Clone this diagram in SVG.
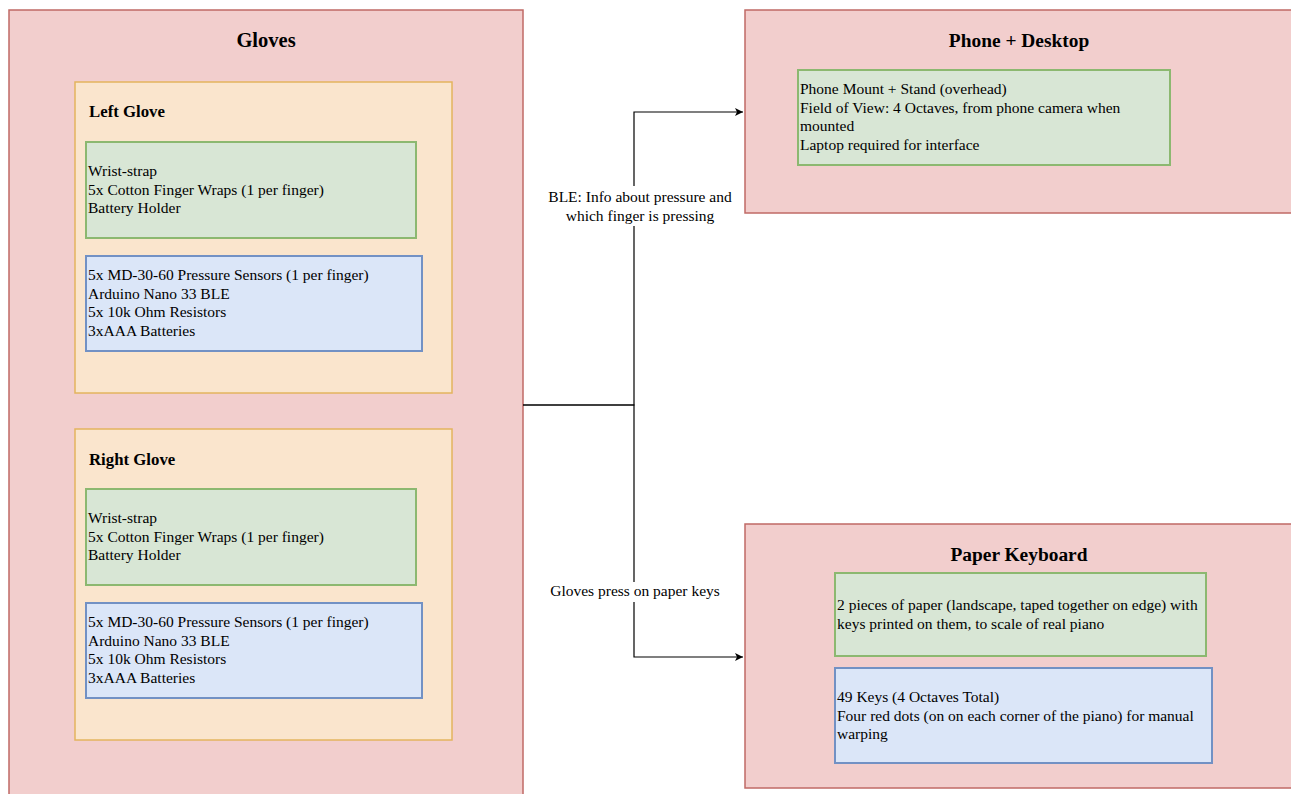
<svg xmlns="http://www.w3.org/2000/svg" width="1291" height="794" viewBox="0 0 1291 794">
<style>
text{font-family:"Liberation Serif","Times New Roman",serif;fill:#000}
.body{font-size:15.5px}
.h1{font-size:20.5px;font-weight:bold}
.h2{font-size:19.4px;font-weight:bold}
.h3{font-size:16.8px;font-weight:bold}
.red{fill:#f2cecd;stroke:#c06a66;stroke-width:1.5}
.org{fill:#fae5cd;stroke:#e3b45e;stroke-width:1.5}
.grn{fill:#d8e6d5;stroke:#8cb870;stroke-width:2}
.blu{fill:#dbe6f8;stroke:#7291c4;stroke-width:2}
.edge{fill:none;stroke:#000;stroke-width:1.2}
</style>
<defs>
<marker id="arr" markerWidth="10" markerHeight="10" refX="9" refY="5" orient="auto" markerUnits="userSpaceOnUse">
<path d="M1,1 L9,5 L1,9 L3,5 Z" fill="#000"/>
</marker>
</defs>
<rect width="1291" height="794" fill="#fff"/>
<g id="gloves">
<rect class="red" x="9" y="10" width="514" height="800"/>
<text class="h1" x="266" y="47" text-anchor="middle">Gloves</text>
</g>
<g id="left-glove">
<rect class="org" x="75" y="82" width="377" height="311"/>
<text class="h3" x="89" y="117">Left Glove</text>
</g>
<g id="left-glove-fabric">
<rect class="grn" x="86" y="142" width="330" height="96"/>
<text class="body" x="88" y="176">Wrist-strap<tspan x="88" dy="18.6">5x Cotton Finger Wraps (1 per finger)</tspan><tspan x="88" dy="18.6">Battery Holder</tspan></text>
</g>
<g id="left-glove-electronics">
<rect class="blu" x="86" y="256" width="336" height="95"/>
<text class="body" x="88" y="280">5x MD-30-60 Pressure Sensors (1 per finger)<tspan x="88" dy="18.6">Arduino Nano 33 BLE</tspan><tspan x="88" dy="18.6">5x 10k Ohm Resistors</tspan><tspan x="88" dy="18.6">3xAAA Batteries</tspan></text>
</g>
<g id="right-glove">
<rect class="org" x="75" y="429" width="377" height="311"/>
<text class="h3" x="89" y="465">Right Glove</text>
</g>
<g id="right-glove-fabric">
<rect class="grn" x="86" y="489" width="330" height="96"/>
<text class="body" x="88" y="523">Wrist-strap<tspan x="88" dy="18.6">5x Cotton Finger Wraps (1 per finger)</tspan><tspan x="88" dy="18.6">Battery Holder</tspan></text>
</g>
<g id="right-glove-electronics">
<rect class="blu" x="86" y="603" width="336" height="95"/>
<text class="body" x="88" y="627">5x MD-30-60 Pressure Sensors (1 per finger)<tspan x="88" dy="18.6">Arduino Nano 33 BLE</tspan><tspan x="88" dy="18.6">5x 10k Ohm Resistors</tspan><tspan x="88" dy="18.6">3xAAA Batteries</tspan></text>
</g>
<g id="phone-desktop">
<rect class="red" x="745" y="10" width="548" height="203"/>
<text class="h2" x="1019" y="47" text-anchor="middle">Phone + Desktop</text>
</g>
<g id="phone-details">
<rect class="grn" x="798" y="70" width="372" height="95"/>
<text class="body" x="800" y="94">Phone Mount + Stand (overhead)<tspan x="800" dy="18.6">Field of View: 4 Octaves, from phone camera when</tspan><tspan x="800" dy="18.6">mounted</tspan><tspan x="800" dy="18.6">Laptop required for interface</tspan></text>
</g>
<g id="paper-keyboard">
<rect class="red" x="745" y="524" width="548" height="264"/>
<text class="h2" x="1019" y="561" text-anchor="middle">Paper Keyboard</text>
</g>
<g id="paper-details">
<rect class="grn" x="835" y="573" width="371" height="83"/>
<text class="body" x="837" y="610">2 pieces of paper (landscape, taped together on edge) with<tspan x="837" dy="18.6">keys printed on them, to scale of real piano</tspan></text>
</g>
<g id="keyboard-details">
<rect class="blu" x="835" y="668" width="377" height="95"/>
<text class="body" x="837" y="702">49 Keys (4 Octaves Total)<tspan x="837" dy="18.6">Four red dots (on on each corner of the piano) for manual</tspan><tspan x="837" dy="18.6">warping</tspan></text>
</g>
<g id="connectors">
<path class="edge" d="M523,405 H634 V112 H743" marker-end="url(#arr)"/>
<path class="edge" d="M523,405 H634 V657 H743" marker-end="url(#arr)"/>
<rect x="546" y="186" width="190" height="40" fill="#fff"/>
<text class="body" x="640" y="202" text-anchor="middle">BLE: Info about pressure and<tspan x="640" dy="18.6">which finger is pressing</tspan></text>
<rect x="549" y="582" width="173" height="20" fill="#fff"/>
<text class="body" x="635" y="596" text-anchor="middle">Gloves press on paper keys</text>
</g>
</svg>
